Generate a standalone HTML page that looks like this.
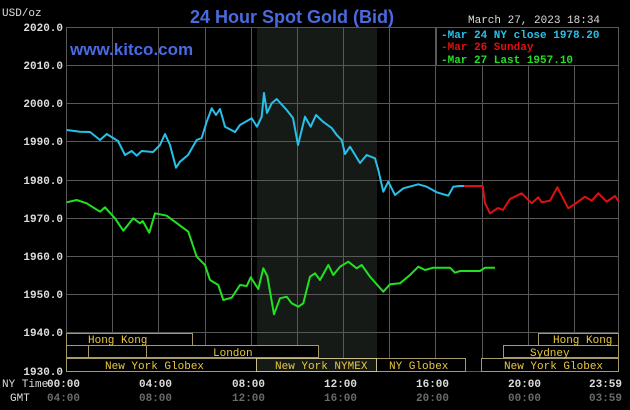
<!DOCTYPE html>
<html><head><meta charset="utf-8"><style>
html,body{margin:0;padding:0;background:#000;}
svg{display:block;}
text{font-family:"Liberation Mono","DejaVu Sans Mono",monospace;}
</style></head><body>
<svg width="630" height="410" viewBox="0 0 630 410" xmlns="http://www.w3.org/2000/svg">
<rect width="630" height="410" fill="#000"/>
<rect x="257" y="27" width="120" height="345" fill="#161a16"/>
<g stroke="#585858" stroke-width="1">
<line x1="66" y1="27.5" x2="618" y2="27.5"/>
<line x1="66" y1="65.5" x2="618" y2="65.5"/>
<line x1="66" y1="103.5" x2="618" y2="103.5"/>
<line x1="66" y1="141.5" x2="618" y2="141.5"/>
<line x1="66" y1="180.5" x2="618" y2="180.5"/>
<line x1="66" y1="218.5" x2="618" y2="218.5"/>
<line x1="66" y1="256.5" x2="618" y2="256.5"/>
<line x1="66" y1="294.5" x2="618" y2="294.5"/>
<line x1="66" y1="332.5" x2="618" y2="332.5"/>
<line x1="66" y1="371.5" x2="618" y2="371.5"/>
<line x1="66.5" y1="27" x2="66.5" y2="372"/>
<line x1="112.5" y1="27" x2="112.5" y2="372"/>
<line x1="158.5" y1="27" x2="158.5" y2="372"/>
<line x1="205.5" y1="27" x2="205.5" y2="372"/>
<line x1="251.5" y1="27" x2="251.5" y2="372"/>
<line x1="297.5" y1="27" x2="297.5" y2="372"/>
<line x1="343.5" y1="27" x2="343.5" y2="372"/>
<line x1="389.5" y1="27" x2="389.5" y2="372"/>
<line x1="435.5" y1="27" x2="435.5" y2="372"/>
<line x1="482.5" y1="27" x2="482.5" y2="372"/>
<line x1="528.5" y1="27" x2="528.5" y2="372"/>
<line x1="574.5" y1="27" x2="574.5" y2="372"/>
<line x1="618.5" y1="27" x2="618.5" y2="372"/>
</g>
<g fill="none" stroke-width="2" stroke-linejoin="round">
<polyline stroke="#28c0e8" points="66.7,130 80,131.7 90,132 100,140 106.7,134 118,141 125,155 131.7,151 136.7,155.7 141.7,151 153,152 160,145 165,134 170,145 176,167.7 180,161.7 188,155 196.7,140 201.7,138 206.7,121.7 211.7,108.3 216,115 220,109 225,126.7 235,132 240,125 251.7,118.3 257,126.7 261.7,116.7 264,93 267,113 271.7,103.3 276.7,99 286.7,110 293,118 298,145 305,116.7 310.7,126.7 316,115 323,121.7 331.7,128 336.7,135 341.7,140 345,154 350,146.7 360,163 366.7,155 375,158.3 378.3,170 383.3,191.7 388.3,181.7 395,195 403.3,188.3 418.3,184.3 426.7,186.7 436.7,192.3 448.3,195.7 453.3,186.7 459.3,186 464,186"/>
<polyline stroke="#e01010" points="464,186 482.7,186 485,203.3 490,213.3 498,208 503,210 510,199 521.7,193.3 531.7,203.3 538.3,197.3 541.7,202.3 550,200.7 557.3,187.3 568.3,208.3 576.7,202.7 585,196.7 591.7,200.7 598.3,193.3 606.7,201.7 615,196 619,202"/>
<polyline stroke="#22e022" points="66.7,202.3 76.7,200 86.7,203.3 100,211.7 105,207.3 115,218.3 123.3,230.7 133.3,218.3 140,223.3 142.7,221 149.3,232.7 155,213.3 166.7,215.7 188.3,231.7 196.7,256.7 205,265 210,280 218.3,285 223.3,300 231.7,297.7 240,285 246.7,286 250.7,277.3 258.3,289 263.3,268.3 267.3,276 274,314.3 280,298.3 286.7,296.7 291.7,303.3 298.3,306.7 303.3,303.3 310,276.7 315,273.3 320,280 328.3,265 333.3,275 340,266.7 348.3,261.7 356.7,268.3 361.7,265 370,276.7 383.3,291.7 390,284.3 400,283.3 410,275 418.3,266.7 425,270 433.3,267.7 450,267.7 455,272.7 460,271 480,271 485,267.7 495,267.7"/>
</g>
<g fill="#000" stroke="#a89a68" stroke-width="1">
<rect x="66.5" y="333.5" width="126" height="12"/>
<rect x="538.5" y="333.5" width="80" height="12"/>
<rect x="66.5" y="345.5" width="22" height="12"/>
<rect x="88.5" y="345.5" width="58" height="12"/>
<rect x="146.5" y="345.5" width="172" height="12"/>
<rect x="503.5" y="345.5" width="115" height="12"/>
<rect x="66.5" y="358.5" width="190" height="13"/>
<rect x="376.5" y="358.5" width="89" height="13"/>
<rect x="481.5" y="358.5" width="137" height="13"/>
</g>
<rect x="256.5" y="358.5" width="120" height="13" fill="#161a16" stroke="#c8bc88"/>
<g fill="#e8c840" font-size="11">
<text x="88" y="343">Hong Kong</text>
<text x="553" y="343">Hong Kong</text>
<text x="213" y="356">London</text>
<text x="530" y="356">Sydney</text>
<text x="105" y="369">New York Globex</text>
<text x="275" y="369">New York NYMEX</text>
<text x="389" y="369">NY Globex</text>
<text x="504" y="369">New York Globex</text>
</g>
<g fill="#dddddd" font-size="11" font-weight="bold" text-anchor="end">
<text x="63" y="31">2020.0</text>
<text x="63" y="69">2010.0</text>
<text x="63" y="107">2000.0</text>
<text x="63" y="145">1990.0</text>
<text x="63" y="184">1980.0</text>
<text x="63" y="222">1970.0</text>
<text x="63" y="260">1960.0</text>
<text x="63" y="298">1950.0</text>
<text x="63" y="336">1940.0</text>
<text x="63" y="375">1930.0</text>
</g>
<text x="2" y="16" fill="#dddddd" font-size="11">USD/oz</text>
<text x="190" y="23" fill="#4a6ae0" font-size="18" font-weight="bold" style="font-family:'Liberation Sans',sans-serif">24 Hour Spot Gold (Bid)</text>
<text x="70" y="55" fill="#4a6ae0" font-size="17" font-weight="bold" style="font-family:'Liberation Sans',sans-serif">www.kitco.com</text>
<text x="468" y="23" fill="#dddddd" font-size="11">March 27, 2023 18:34</text>
<rect x="436.5" y="27.5" width="182" height="38" fill="#000" stroke="#585858"/>
<g font-size="11" font-weight="bold">
<text x="441" y="38" fill="#28c0e8">-Mar 24 NY close 1978.20</text>
<text x="441" y="50" fill="#e01010">-Mar 26 Sunday</text>
<text x="441" y="63" fill="#22e022">-Mar 27 Last 1957.10</text>
</g>
<g font-size="11" font-weight="bold" fill="#dddddd">
<text x="2" y="387" font-weight="normal">NY Time</text>
<text x="47" y="387">00:00</text>
<text x="139" y="387">04:00</text>
<text x="232" y="387">08:00</text>
<text x="324" y="387">12:00</text>
<text x="416" y="387">16:00</text>
<text x="508" y="387">20:00</text>
<text x="589" y="387">23:59</text>
</g>
<text x="10" y="401" fill="#dddddd" font-size="11">GMT</text>
<g font-size="11" font-weight="bold" fill="#6a6a6a">
<text x="47" y="401">04:00</text>
<text x="139" y="401">08:00</text>
<text x="232" y="401">12:00</text>
<text x="324" y="401">16:00</text>
<text x="416" y="401">20:00</text>
<text x="508" y="401">00:00</text>
<text x="589" y="401">03:59</text>
</g>
</svg>
</body></html>
